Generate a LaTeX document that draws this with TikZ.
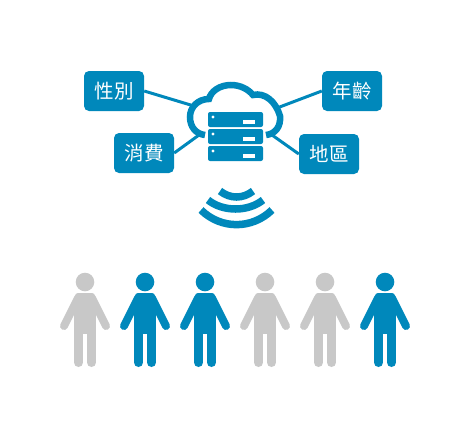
\documentclass[tikz,border=0pt]{standalone}
\usepackage{fontspec}
\newfontfamily\cjk{Noto Sans CJK TC}
\definecolor{cloudblue}{HTML}{0088BB}
\definecolor{offgrey}{HTML}{C8C8C8}

\begin{document}
\begin{tikzpicture}[x=1pt,y=-1pt]
        \tikzstyle{every node}=[fill=cloudblue,text=white,rounded corners=5pt,minimum width=60pt,minimum height=40pt,inner sep=0pt,font=\cjk\fontsize{19.5}{20}\selectfont]
        \tikzstyle{link}=[draw=cloudblue,line width=3pt]
        \tikzstyle{wave}=[draw=cloudblue,line width=7.5pt]
        \useasboundingbox (0,0) rectangle (470,440);
        \node (gender) at (114,91) {性別};
        \node (age) at (352,91) {年齡};
        \node (spend) at (144,153) {消費};
        \node (region) at (329,154) {地區};
        \coordinate (cloudnw) at (194,106);
        \coordinate (cloudne) at (277,108);
        \coordinate (cloudsw) at (199,135);
        \coordinate (cloudse) at (272,135);
        \draw[link] (gender.east) -- (cloudnw);
        \draw[link] (age.west) -- (cloudne);
        \draw[link] (spend.east) -- (cloudsw);
        \draw[link] (region.west) -- (cloudse);
        \draw[draw=cloudblue,line width=6.5pt] (205,135) .. controls (196,134) and (190,127) .. (190,117)
                .. controls (190,107) and (198,99) .. (209,99) .. controls (211,91) and (220,85) .. (231,85)
                .. controls (240,85) and (248,89) .. (253,95) .. controls (265,92) and (276,102) .. (280,116)
                .. controls (281,127) and (275,134) .. (266,135);
        \foreach \y in {112,129,146} {
                \fill[cloudblue,rounded corners=2pt] (208,\y) rectangle (263,\y+15);
                \fill[white] (213,\y+5) circle[radius=1.7pt];
                \fill[white] (243,\y+8) rectangle (255,\y+12);
        }
        \draw[wave] (220,191) .. controls (230,199) and (243,199) .. (253,191);
        \draw[wave] (208,200) .. controls (223,212) and (248,212) .. (263,200);
        \draw[wave] (201,210) .. controls (221,229.5) and (252,229.5) .. (272,210);
        \foreach \x/\c in {85/offgrey,145/cloudblue,205/cloudblue,265/offgrey,325/offgrey,385/cloudblue} {
                \begin{scope}[xshift=\x pt,fill=\c,draw=\c]
                        \fill (0,282) circle[radius=9.3pt];
                        \fill[rounded corners=3pt] (-10,293) rectangle (10,302);
                        \fill (-11,297) rectangle (11,334);
                        \draw[line width=8pt,line cap=round] (-7,298) -- (-21,326);
                        \draw[line width=8pt,line cap=round] (7,298) -- (21,326);
                        \draw[line width=9pt,line cap=round] (-6.5,330) -- (-6.5,362.5);
                        \draw[line width=9pt,line cap=round] (6.5,330) -- (6.5,362.5);
                \end{scope}
        }
\end{tikzpicture}
\end{document}
